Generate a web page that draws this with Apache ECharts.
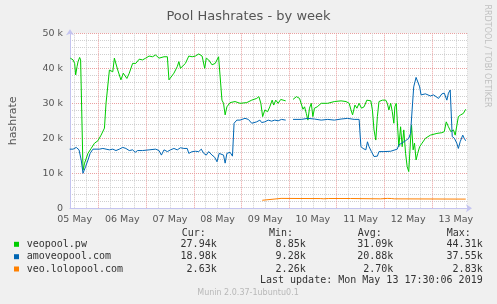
<!DOCTYPE html>
<html><head><meta charset="utf-8">
<script src="https://cdn.jsdelivr.net/npm/echarts@6/dist/echarts.min.js"></script>
<style>html,body{margin:0;padding:0;background:#f0f0f0}#c{width:497px;height:304px}</style>
</head><body><div id="c"></div><script>
// x values: hours since 2019-05-05 00:00 ; y values: hashrate in thousands
const dayLabels = ['05 May','06 May','07 May','08 May','09 May','10 May','11 May','12 May','13 May'];
const dayLabelHours = [12,36,60,84,108,132,156,180,204];
const yTicks = [0,10,20,30,40,50];

const veopool = [[9.8,42.9],[11.2,42.4],[12,41.4],[12.5,38.1],[13.2,40.5],[13.7,41.9],[14.5,43.1],[15,42.4],[16.2,10.9],[17,12.9],[18.7,15.7],[20.3,17.1],[22,18.6],[23.7,19.3],[25.3,20.9],[27,22.9],[27.8,30],[29.5,39.5],[30.3,40],[31.2,39],[32,42.9],[32.8,43.3],[33.7,39.5],[34.5,39],[35.3,36.7],[36.5,38.6],[37.5,38.4],[38.3,37.1],[39.5,38.6],[41.2,41.4],[42,41.9],[42.8,41.4],[44.5,42.6],[46.2,42.4],[47.8,42.9],[49.5,43.5],[51.2,43.3],[52.8,43.8],[54.5,42.9],[55.3,42.4],[57,43.3],[58.7,43.3],[59.5,36.7],[60.3,36.7],[62,38.6],[63.7,40.5],[64.5,41.9],[65.3,40],[66.2,39.5],[67.8,41.4],[69.5,43.5],[71.2,43.3],[72.8,43.5],[74.5,44.1],[76.2,43.5],[77.5,40],[78.3,42.9],[79.5,42.4],[81.2,41],[82.8,41.4],[84.5,43.3],[85.3,42.9],[86.2,30.9],[87,30],[87.8,26.7],[88.7,29],[90.3,30.2],[92.8,30.5],[95.3,30],[96.2,30.5],[98.7,30.2],[101.2,30.9],[103.7,31.4],[104.8,31.9],[105.8,30],[106.7,26.2],[107.8,28.1],[109.2,27.6],[110.3,29],[111.5,30.9],[112.3,29.5],[113.3,30.9],[114.5,30],[115.8,31.1],[117,30.9],[118.3,30.7],[120,null],[122,31.1],[123.7,31.9],[125.3,31.4],[126.2,30.9],[127,28.3],[127.8,29],[128.7,27.1],[129.5,25.2],[130.3,28.6],[131.2,30],[132,26.2],[132.8,28.6],[134.2,29],[136.2,30],[139.5,30],[142.8,30.5],[146.2,30.7],[148.7,30.5],[150.3,30],[151.2,28.1],[152,26.7],[153.2,29.5],[154.2,28.6],[155.3,30],[156.5,28.6],[157.8,29],[159.2,30.9],[161.2,30.7],[162,28.1],[162.8,22.4],[163.7,19.5],[164.5,26.2],[165.3,30.5],[167,30.9],[168.7,30.9],[169.5,30],[170.3,28.1],[171.2,30],[172,27.6],[172.8,24.3],[173.3,29],[174,30],[174.5,25.2],[175.3,17.6],[176.2,23.3],[177,17.6],[177.8,22.4],[178.7,15.7],[179.5,11.9],[180.3,10.5],[181.2,19.5],[181.7,23.8],[182.5,16.7],[183.2,18.6],[184,13.8],[184.8,15.7],[185.8,17.6],[187,18.6],[188.7,20],[191.2,20.9],[194.5,21.4],[197,21.6],[198.2,21.9],[199.2,24.7],[200.3,23.3],[201.5,21.9],[202.8,22.4],[203.7,20.9],[204.5,20.5],[205.3,26.2],[206.5,26.7],[207.8,27.1],[209,28.3]];

const amoveopool = [[9.5,16.9],[11.2,16.9],[12.8,17.4],[14.2,16.7],[15.3,13.8],[16.2,10],[16.7,9.5],[17.5,11.9],[18.7,13.8],[19.8,15.7],[21.2,16.9],[24.5,16.9],[26.2,17.1],[27.8,16.9],[29.5,16.7],[31.2,16.9],[32.8,16.5],[34.5,16.9],[36.2,17.4],[37.8,17.1],[39.5,16.5],[41.2,16.7],[42.5,16],[43.7,16.5],[46.2,16.5],[49.5,16.7],[52.8,16.9],[54.5,16.5],[55.7,15.2],[57,16.7],[58.7,16.2],[60.3,16.7],[62,17.1],[63.7,16.7],[65.3,17.3],[67,17.1],[68.7,17.1],[69.5,15.7],[71.2,16.2],[72.8,16.3],[74.5,16.2],[75.8,16.9],[77,15.7],[78.3,15.2],[79.5,16.2],[81.2,15.2],[82.5,14.6],[83.7,13.3],[84.8,15.7],[85.8,16],[87,15.2],[87.8,12.9],[88.7,15.7],[90.3,16],[91.5,14.9],[92.3,24.3],[93.7,25.2],[95.3,25.2],[96.2,25.2],[97.8,25.7],[99.5,25.4],[101.2,24.3],[103.7,24.7],[105.3,25.2],[106.2,24.5],[107.8,24.7],[109.5,25.2],[111.2,24.9],[112.8,25.2],[114.5,25],[116.2,25.4],[118.3,25.2],[120,null],[122,25.4],[126.2,25.4],[129.5,25.7],[132.8,25.5],[136.2,25.2],[139.5,25.4],[142.8,25.2],[146.2,25.5],[149.5,25.7],[152.8,25.4],[155.3,25.4],[156.2,17.6],[157.3,17.1],[158.7,16.7],[159.5,19],[160.3,17.6],[161.5,16.2],[162.8,14.8],[164.5,14.9],[165.3,16.2],[167.8,16.2],[171.2,16.3],[174.5,16.9],[175.3,18.1],[177,18.7],[178.7,19.3],[180.3,20],[181.2,21.4],[182,28.1],[182.8,34.7],[184,37.4],[185,36.9],[185.8,34.7],[186.5,32.4],[188.7,32.7],[191.2,32.1],[192.8,32.4],[195.3,31.4],[197,32.7],[198.2,32.9],[199.5,30.9],[200.3,32.9],[201.2,33.8],[202.2,20.5],[203.3,20],[204.5,18.6],[205.3,17.1],[206.2,19],[207.5,20.9],[208.2,20],[209,19.3]];

const lolopool = [[106.5,2.3],[107.5,2.86],[116,2.83],[126,2.8],[136,2.78],[137.5,2.72],[140,2.8],[151,2.8],[151.5,2.7],[166,2.7],[167,2.83],[169.5,2.83],[170.5,2.6],[171.5,2.8],[172.5,2.6],[173,2.7],[209,2.63]];

const seriesNames = ['veopool.pw','amoveopool.com','veo.lolopool.com'];
const seriesColors = ['#00cc00','#0066b3','#ff8000'];
const statHeaders = ['Cur:','Min:','Avg:','Max:'];
const statCur = ['27.94k','18.98k','2.63k'];
const statMin = ['8.85k','9.28k','2.26k'];
const statAvg = ['31.09k','20.88k','2.70k'];
const statMax = ['44.31k','37.55k','2.83k'];
const lastUpdate = 'Last update: Mon May 13 17:30:06 2019';

const X_MIN = 9.65, X_MAX = 210.15;
const majorHours = [], minorHours = [];
for (let h = 0; h <= X_MAX; h += 6) {
  if (h < X_MIN) continue;
  if (h % 24 === 0) majorHours.push(h); else minorHours.push(h);
}

const chart = echarts.init(document.getElementById('c'), null, {renderer:'canvas'});
const mono = '"DejaVu Sans Mono", monospace';
const sans = '"DejaVu Sans", sans-serif';
const txtColor = '#333';

const graphics = [];
const headerX = [181.7, 269, 357.7, 446.7];
const colRight = [216.7, 305.7, 393.3, 482.7];
const rowY = [244.3, 256.7, 269];
statHeaders.forEach((t,i)=>graphics.push({type:'text', x:headerX[i], y:233.3, style:{text:t, font:'10px '+mono, fill:txtColor, align:'left', verticalAlign:'middle'}}));
const cols = [statCur, statMin, statAvg, statMax];
seriesNames.forEach((n,r)=>{
  graphics.push({type:'rect', shape:{x:14, y:rowY[r]-2.5, width:5, height:5}, style:{fill:seriesColors[r]}});
  graphics.push({type:'text', x:26.7, y:rowY[r], style:{text:n, font:'10px '+mono, fill:txtColor, align:'left', verticalAlign:'middle'}});
  cols.forEach((c,i)=>graphics.push({type:'text', x:colRight[i], y:rowY[r], style:{text:c[r], font:'10px '+mono, fill:txtColor, align:'right', verticalAlign:'middle'}}));
});
graphics.push({type:'text', x:482.7, y:280.7, style:{text:lastUpdate, font:'10px '+mono, fill:txtColor, align:'right', verticalAlign:'middle'}});
graphics.push({type:'text', x:248, y:293.3, style:{text:'Munin 2.0.37-1ubuntu0.1', font:'8px '+sans, fill:'#b8b8b8', align:'center', verticalAlign:'middle'}});
graphics.push({type:'text', x:487.5, y:56, rotation:-Math.PI/2, style:{text:'RRDTOOL / TOBI OETIKER', font:'8px '+sans, fill:'#c0c0c0', align:'center', verticalAlign:'middle'}});

const axisBlue = '#c4c4f0';
const option = {
  animation:false,
  backgroundColor:'#f0f0f0',
  title:{text:'Pool Hashrates - by week', left:'center', top:5, textStyle:{fontFamily:sans, fontSize:13, fontWeight:'normal', color:'#555'}},
  grid:{left:67, right:29, top:33.3, bottom:95.7, show:true, backgroundColor:'#fff', borderWidth:0},
  xAxis:[
    {type:'value', position:'bottom', min:X_MIN, max:X_MAX, axisLine:{show:false}, axisLabel:{show:false},
     axisTick:{show:false, customValues:minorHours},
     splitLine:{show:true, lineStyle:{color:'#cfcfcf', width:1, type:[1,1]}}},
    {type:'value', position:'bottom', min:X_MIN, max:X_MAX,
     axisLine:{show:true, onZero:false, lineStyle:{color:axisBlue, width:1}, symbol:['none','arrow'], symbolSize:[6,6], symbolOffset:[0,4]},
     axisTick:{show:false, customValues:majorHours},
     axisLabel:{show:true, customValues:dayLabelHours, margin:6, fontFamily:sans, fontSize:9.5, color:'#555',
       formatter:(v)=>dayLabels[Math.round((v-12)/24)]},
     splitLine:{show:true, lineStyle:{color:'#eaa0a0', width:1, type:[1,1]}}}
  ],
  yAxis:{type:'value', min:0, max:50, interval:10,
    name:'hashrate', nameLocation:'middle', nameRotate:90, nameGap:51,
    nameTextStyle:{fontFamily:sans, fontSize:11, color:'#555'},
    axisLine:{show:true, lineStyle:{color:axisBlue, width:1}, symbol:['none','arrow'], symbolSize:[6,6], symbolOffset:[0,4]},
    axisTick:{show:false},
    axisLabel:{margin:7, fontFamily:sans, fontSize:9.5, color:'#555', formatter:(v)=>v===0?'0':v+' k'},
    splitLine:{show:true, lineStyle:{color:'#eaa0a0', width:1, type:[1,1]}},
    minorTick:{show:false, splitNumber:5},
    minorSplitLine:{show:true, lineStyle:{color:'#cfcfcf', width:1, type:[1,1]}}
  },
  series:[
    {name:seriesNames[0], type:'line', xAxisIndex:1, data:veopool, showSymbol:false, connectNulls:false, lineStyle:{color:seriesColors[0], width:1}, itemStyle:{color:seriesColors[0]}, z:3},
    {name:seriesNames[1], type:'line', xAxisIndex:1, data:amoveopool, showSymbol:false, connectNulls:false, lineStyle:{color:seriesColors[1], width:1}, itemStyle:{color:seriesColors[1]}, z:4},
    {name:seriesNames[2], type:'line', xAxisIndex:1, data:lolopool, showSymbol:false, lineStyle:{color:seriesColors[2], width:1}, itemStyle:{color:seriesColors[2]}, z:5}
  ],
  graphic:graphics
};
chart.setOption(option);
</script></body></html>
